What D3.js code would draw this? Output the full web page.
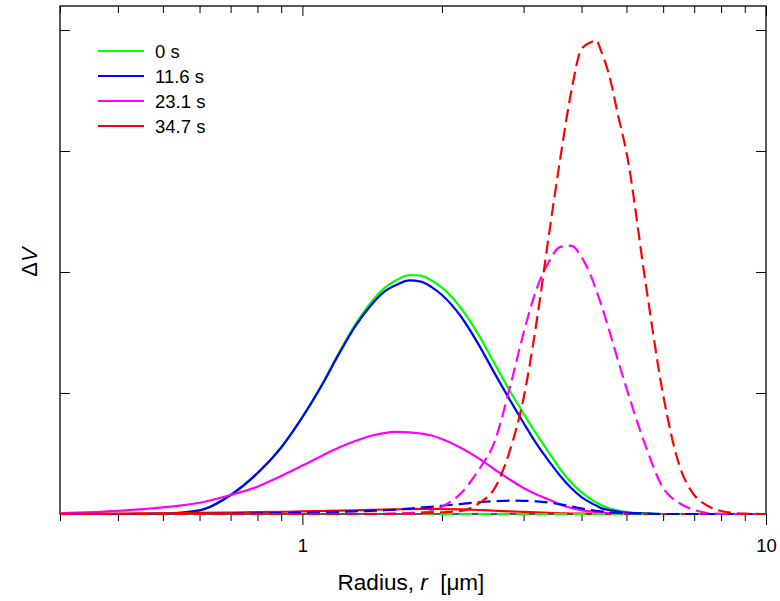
<!DOCTYPE html>
<html>
<head>
<meta charset="utf-8">
<script src="https://cdn.jsdelivr.net/npm/d3@7"></script>
<style>
  body { margin: 0; background: #fff; }
  svg { display: block; font-family: "Liberation Sans", Arial, sans-serif; }
</style>
</head>
<body>
<div id="chart"></div>
<script>
// radius grid [um] and the read-off curves (arbitrary units of dV)
const radius = [0.3, 0.4, 0.5, 0.6, 0.7, 0.8, 0.9, 1.0, 1.1, 1.2, 1.3, 1.4, 1.5, 1.6, 1.7, 1.8, 1.9, 2.0,
    2.2, 2.4, 2.6, 2.8, 3.0, 3.2, 3.4, 3.6, 3.8, 4.0, 4.2, 4.3, 4.4, 4.6, 4.8, 5.0, 5.5, 6.0, 6.5, 7.0, 7.5, 8.0, 9.0, 10];

// solid curves
const solid0 = [0, 0, 0.003, 0.03, 0.155, 0.335, 0.55, 0.80, 1.065, 1.335, 1.565, 1.74, 1.865, 1.935, 1.975, 1.97, 1.93, 1.87,
    1.70, 1.48, 1.24, 1.02, 0.83, 0.66, 0.51, 0.37, 0.26, 0.18, 0.12, 0.097, 0.075, 0.045, 0.028, 0.016, 0.005, 0, 0, 0, 0, 0, 0, 0];
const solid11 = [0, 0, 0.003, 0.03, 0.157, 0.339, 0.55, 0.80, 1.06, 1.325, 1.55, 1.717, 1.835, 1.895, 1.93, 1.92, 1.875, 1.81,
    1.63, 1.40, 1.16, 0.945, 0.752, 0.579, 0.438, 0.314, 0.215, 0.14, 0.09, 0.07, 0.05, 0.033, 0.02, 0.011, 0.004, 0, 0, 0, 0, 0, 0, 0];
const solid23 = [0.006, 0.026, 0.054, 0.093, 0.157, 0.226, 0.314, 0.40, 0.48, 0.55, 0.603, 0.645, 0.669, 0.678, 0.675, 0.665, 0.649, 0.62,
    0.545, 0.46, 0.368, 0.285, 0.215, 0.161, 0.12, 0.078, 0.05, 0.031, 0.021, 0.016, 0.011, 0.007, 0.004, 0.002, 0, 0, 0, 0, 0, 0, 0, 0];
const solid35 = [0.002, 0.004, 0.006, 0.009, 0.012, 0.015, 0.018, 0.021, 0.025, 0.028, 0.031, 0.034, 0.037, 0.039, 0.041, 0.042, 0.042, 0.041,
    0.038, 0.033, 0.027, 0.022, 0.017, 0.013, 0.009, 0.006, 0.004, 0.003, 0.002, 0.0015, 0.001, 0, 0, 0, 0, 0, 0, 0, 0, 0, 0, 0];

// dashed curves
const dashed0 = [0, 0, 0, 0, 0, 0, 0, 0, 0, 0, 0, 0, 0, 0, 0, 0, 0, 0,
    0, 0, 0, 0, 0, 0, 0, 0, 0, 0, 0, 0, 0, 0, 0, 0, 0, 0, 0, 0, 0, 0, 0, 0];
const dashed11 = [0, 0, 0, 0, 0.002, 0.004, 0.007, 0.011, 0.014, 0.018, 0.022, 0.026, 0.031, 0.037, 0.044, 0.052, 0.06, 0.068,
    0.083, 0.097, 0.106, 0.11, 0.109, 0.104, 0.094, 0.08, 0.063, 0.046, 0.032, 0.027, 0.022, 0.014, 0.009, 0.006, 0.002, 0, 0, 0, 0, 0, 0, 0];
const dashed23 = [0, 0, 0, 0, 0, 0, 0, 0, 0, 0, 0, 0.001, 0.002, 0.004, 0.008, 0.013, 0.025, 0.06,
    0.174, 0.364, 0.603, 1.04, 1.496, 1.86, 2.083, 2.207, 2.217, 2.124, 1.959, 1.851, 1.744, 1.504, 1.264, 1.041, 0.562, 0.215, 0.091, 0.033, 0.008, 0.002, 0, 0];
const dashed35 = [0, 0, 0, 0, 0, 0, 0, 0, 0, 0, 0, 0, 0, 0.002, 0.002, 0.003, 0.01, 0.014,
    0.025, 0.087, 0.215, 0.52, 0.959, 1.587, 2.30, 2.94, 3.488, 3.843, 3.90, 3.917, 3.835, 3.61, 3.289, 2.99, 1.909, 0.983, 0.405, 0.157, 0.066, 0.025, 0.003, 0];

const labels = ["0 s", "11.6 s", "23.1 s", "34.7 s"];
const colors = ["#00ff00", "#0000ff", "#ff00ff", "#ff0000"];
const solidSeries = [solid0, solid11, solid23, solid35];
const dashedSeries = [dashed0, dashed11, dashed23, dashed35];

const xMajor = [1, 10];
const xMinor = [0.3, 0.4, 0.5, 0.6, 0.7, 0.8, 0.9, 2, 3, 4, 5, 6, 7, 8, 9];
const yTicks = [0, 1, 2, 3, 4];

let width = 780, height = 601,
    margin = {top: 6, right: 14, bottom: 87, left: 60},
    w = width - margin.left - margin.right,
    h = height - margin.top - margin.bottom;

let x = d3.scaleLog().domain([0.3, 10]).range([0, w]);
let y = d3.scaleLinear().domain([0, 4.198]).range([h, 0]);

let svg = d3.select("#chart").append("svg")
    .attr("width", width)
    .attr("height", height)
    .append("g")
    .attr("transform", "translate(" + margin.left + "," + margin.top + ")");

// axes: bottom (outward), top/left/right mirrored inward
function styleAxis(g) {
    g.select(".domain").remove();
    g.selectAll("line").attr("stroke", "#000").attr("stroke-width", 1);
    g.selectAll("text").attr("font-size", 18.5).attr("fill", "#000")
        .attr("font-family", "'Liberation Sans', Arial, sans-serif");
}

svg.append("g")
    .attr("transform", "translate(0," + h + ")")
    .call(d3.axisBottom(x).tickValues(xMajor).tickSize(11).tickPadding(14).tickFormat(d3.format("d")))
    .call(styleAxis);
svg.append("g")
    .attr("transform", "translate(0," + h + ")")
    .call(d3.axisBottom(x).tickValues(xMinor).tickSize(7).tickFormat(""))
    .call(styleAxis);
svg.append("g")
    .call(d3.axisTop(x).tickValues(xMajor).tickSize(-10).tickFormat(""))
    .call(styleAxis);
svg.append("g")
    .call(d3.axisTop(x).tickValues(xMinor).tickSize(-7).tickFormat(""))
    .call(styleAxis);
svg.append("g")
    .call(d3.axisLeft(y).tickValues(yTicks).tickSize(-10).tickFormat(""))
    .call(styleAxis);
svg.append("g")
    .attr("transform", "translate(" + w + ",0)")
    .call(d3.axisRight(y).tickValues(yTicks).tickSize(-10).tickFormat(""))
    .call(styleAxis);

// frame
svg.append("rect")
    .attr("x", 0).attr("y", 0)
    .attr("width", w).attr("height", h)
    .attr("fill", "none")
    .attr("stroke", "#000")
    .attr("stroke-width", 1.3);

let line = d3.line()
    .curve(d3.curveMonotoneX)
    .x(function(d, i) { return x(radius[i]); })
    .y(function(d) { return y(d); });

solidSeries.forEach(function(s, k) {
    svg.append("path")
        .datum(s)
        .attr("fill", "none")
        .attr("stroke", colors[k])
        .attr("stroke-width", 2.2)
        .attr("d", line);
});

dashedSeries.forEach(function(s, k) {
    svg.append("path")
        .datum(s)
        .attr("fill", "none")
        .attr("stroke", colors[k])
        .attr("stroke-width", 2.2)
        .attr("stroke-dasharray", "13,6")
        .attr("d", line);
});

// legend
let legend = svg.append("g").attr("transform", "translate(38,45)");
labels.forEach(function(l, k) {
    legend.append("line")
        .attr("x1", 0).attr("x2", 46)
        .attr("y1", k * 25).attr("y2", k * 25)
        .attr("stroke", colors[k])
        .attr("stroke-width", 2.2);
    legend.append("text")
        .attr("x", 57).attr("y", k * 25 + 6.5)
        .attr("font-size", 18.5)
        .attr("fill", "#000")
        .text(l);
});

// axis titles
let xt = svg.append("text")
    .attr("x", 351).attr("y", h + 76)
    .attr("text-anchor", "middle")
    .attr("font-size", 22.5)
    .attr("fill", "#000")
    .style("white-space", "pre");
xt.append("tspan").text("Radius, ");
xt.append("tspan").attr("font-style", "italic").text("r");
xt.append("tspan").text("  [\u03bcm]");

let yt = svg.append("text")
    .attr("transform", "translate(-23," + (262 - margin.top) + ") rotate(-90)")
    .attr("text-anchor", "middle")
    .attr("font-size", 22)
    .attr("fill", "#000");
yt.append("tspan").text("\u0394");
yt.append("tspan").attr("font-style", "italic").text("V");
</script>
</body>
</html>
